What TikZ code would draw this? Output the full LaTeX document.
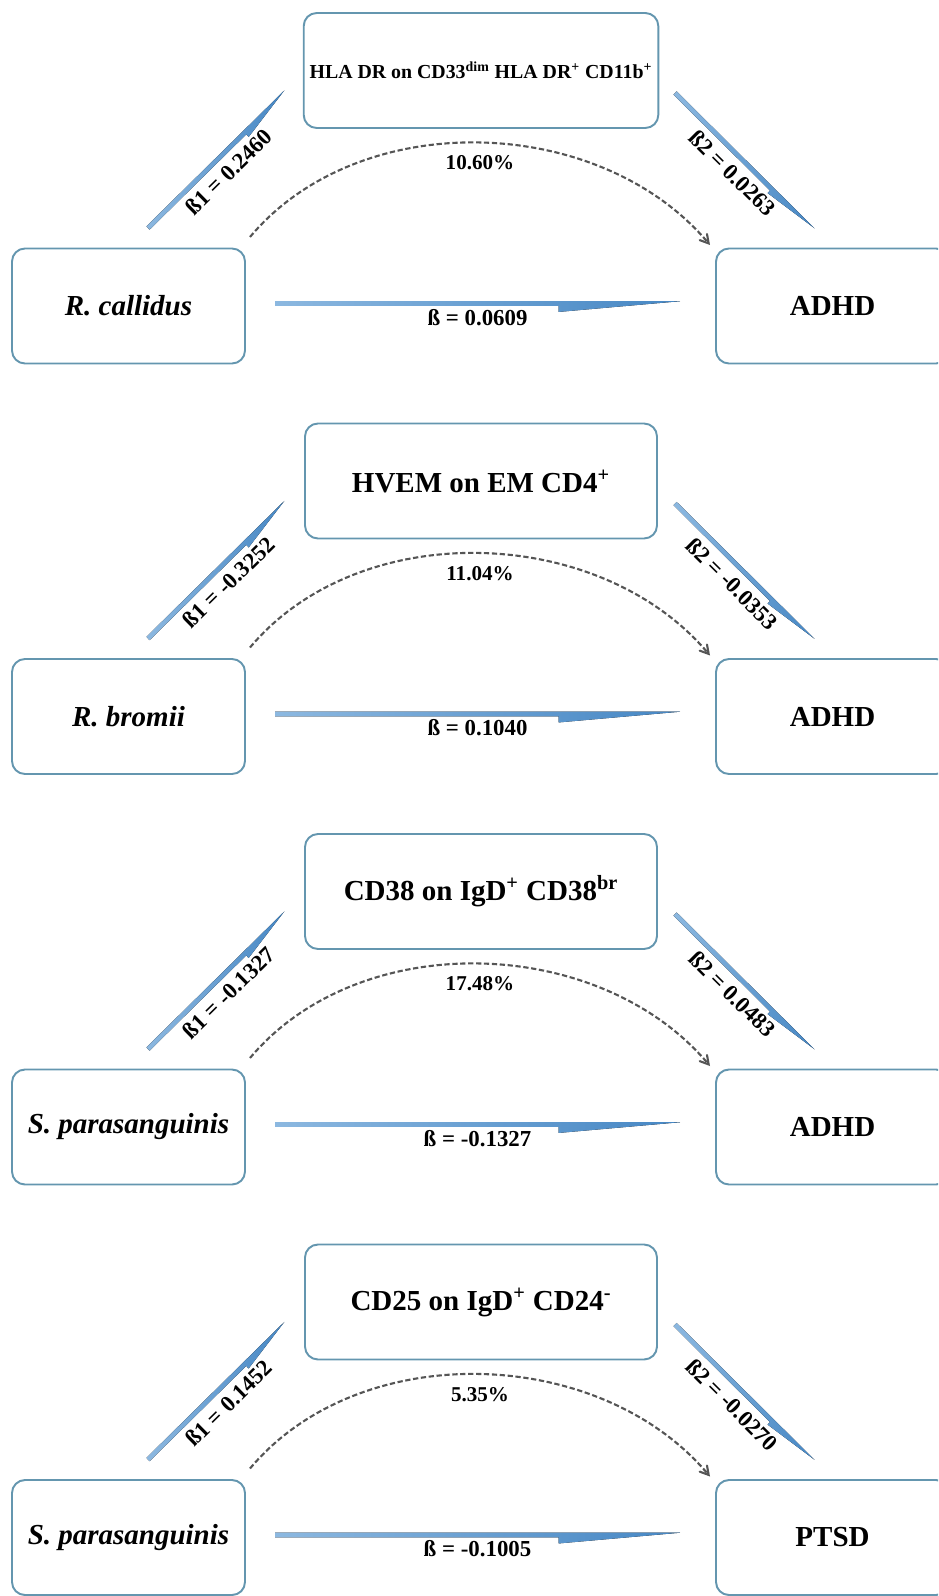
\documentclass[tikz,border=0pt]{standalone}
\usepackage{fontspec}
\setmainfont{Liberation Serif}
\usetikzlibrary{arrows,calc,positioning}

\definecolor{boxline}{RGB}{100,150,175}
\definecolor{flowlight}{RGB}{140,184,224}
\definecolor{flowdark}{RGB}{70,135,196}
\definecolor{dashgray}{RGB}{85,85,85}

% shaded one-sided arrow between two named points
\newcommand{\flowarrow}[3][4.8pt]{%
  \coordinate (fm) at ($(#2)!0.7!(#3)$);
  \fill[flow] ($(#2)!1.3pt!90:(#3)$) -- ($(#3)!1.3pt!-90:(#2)$)
    -- ($(fm)!#1!-90:(#3)$) -- ($(fm)!1.3pt!-90:(#3)$)
    -- ($(#2)!1.3pt!-90:(#3)$) -- cycle;}

\begin{document}
\begin{tikzpicture}[x=0.2mm,y=0.2mm,>=angle 60]
  \tikzstyle{box}=[rectangle,draw=boxline,line width=1.1pt,rounded corners=2.6mm,
                   font=\fontsize{16.5}{20}\selectfont\bfseries]
  \tikzstyle{mid box}=[box,minimum width=70.4mm,minimum height=23mm]
  \tikzstyle{end box}=[box,on grid,minimum width=46.6mm,minimum height=23mm]
  \tikzstyle{coef}=[font=\fontsize{13}{15}\selectfont\bfseries,inner sep=1.5pt]
  \tikzstyle{share}=[font=\fontsize{12}{14}\selectfont\bfseries,inner sep=1.5pt]
  \tikzstyle{flow}=[left color=flowlight,right color=flowdark]
  \tikzstyle{mediated}=[draw=dashgray,line width=1.2pt,dash pattern=on 3pt off 1.5pt,->]

  \clip (0,0) rectangle (938,-1596);

  \begin{scope}
    \node [mid box] (med) at (481,-70.5) {\fontsize{11.3}{13}\selectfont HLA DR on CD33\textsuperscript{dim} HLA DR\textsuperscript{+} CD11b\textsuperscript{+}};
    \node [end box] (src) [below left=47.1mm and 70.5mm of med] {\textit{R. callidus}};
    \node [end box] (dst) [below right=47.1mm and 70.3mm of med] {ADHD};
    \coordinate (a1) at (148,-228);   \coordinate (a2) at (286,-92);
    \coordinate (b1) at (675,-93);    \coordinate (b2) at (813,-230);
    \coordinate (c1) at (275,-303.5); \coordinate (c2) at (680,-303.5);
    \coordinate (d1) at (250,-237);   \coordinate (d2) at (710,-245);
    \flowarrow[3.3pt]{a1}{a2} \flowarrow[3.3pt]{b1}{b2} \flowarrow{c1}{c2}
    \path (a1) -- node[coef,sloped,below=3pt] {ß1 = 0.2460} (a2);
    \path (b1) -- node[coef,sloped,below=3pt] {ß2 = 0.0263} (b2);
    \path (c1) -- node[coef,below=1.5pt] {ß = 0.0609} (c2);
    \draw [mediated] (d1) to[out=50,in=130,looseness=0.95] node[share,below=5.2pt] {10.60\%} (d2);
  \end{scope}

  \begin{scope}[shift={(0,-410.5)}]
    \node [mid box] (med) at (481,-70.5) {HVEM on EM CD4\textsuperscript{+}};
    \node [end box] (src) [below left=47.1mm and 70.5mm of med] {\textit{R. bromii}};
    \node [end box] (dst) [below right=47.1mm and 70.3mm of med] {ADHD};
    \coordinate (a1) at (148,-228);   \coordinate (a2) at (286,-92);
    \coordinate (b1) at (675,-93);    \coordinate (b2) at (813,-230);
    \coordinate (c1) at (275,-303.5); \coordinate (c2) at (680,-303.5);
    \coordinate (d1) at (250,-237);   \coordinate (d2) at (710,-245);
    \flowarrow[3.3pt]{a1}{a2} \flowarrow[3.3pt]{b1}{b2} \flowarrow{c1}{c2}
    \path (a1) -- node[coef,sloped,below=3pt] {ß1 = -0.3252} (a2);
    \path (b1) -- node[coef,sloped,below=3pt] {ß2 = -0.0353} (b2);
    \path (c1) -- node[coef,below=1.5pt] {ß = 0.1040} (c2);
    \draw [mediated] (d1) to[out=50,in=130,looseness=0.95] node[share,below=5.2pt] {11.04\%} (d2);
  \end{scope}

  \begin{scope}[shift={(0,-821)}]
    \node [mid box] (med) at (481,-70.5) {CD38 on IgD\textsuperscript{+} CD38\textsuperscript{br}};
    \node [end box] (src) [below left=47.1mm and 70.5mm of med] {\textit{S. parasanguinis}};
    \node [end box] (dst) [below right=47.1mm and 70.3mm of med] {ADHD};
    \coordinate (a1) at (148,-228);   \coordinate (a2) at (286,-92);
    \coordinate (b1) at (675,-93);    \coordinate (b2) at (813,-230);
    \coordinate (c1) at (275,-303.5); \coordinate (c2) at (680,-303.5);
    \coordinate (d1) at (250,-237);   \coordinate (d2) at (710,-245);
    \flowarrow[3.3pt]{a1}{a2} \flowarrow[3.3pt]{b1}{b2} \flowarrow{c1}{c2}
    \path (a1) -- node[coef,sloped,below=3pt] {ß1 = -0.1327} (a2);
    \path (b1) -- node[coef,sloped,below=3pt] {ß2 = 0.0483} (b2);
    \path (c1) -- node[coef,below=1.5pt] {ß = -0.1327} (c2);
    \draw [mediated] (d1) to[out=50,in=130,looseness=0.95] node[share,below=5.2pt] {17.48\%} (d2);
  \end{scope}

  \begin{scope}[shift={(0,-1231.5)}]
    \node [mid box] (med) at (481,-70.5) {CD25 on IgD\textsuperscript{+} CD24\textsuperscript{-}};
    \node [end box] (src) [below left=47.1mm and 70.5mm of med] {\textit{S. parasanguinis}};
    \node [end box] (dst) [below right=47.1mm and 70.3mm of med] {PTSD};
    \coordinate (a1) at (148,-228);   \coordinate (a2) at (286,-92);
    \coordinate (b1) at (675,-93);    \coordinate (b2) at (813,-230);
    \coordinate (c1) at (275,-303.5); \coordinate (c2) at (680,-303.5);
    \coordinate (d1) at (250,-237);   \coordinate (d2) at (710,-245);
    \flowarrow[3.3pt]{a1}{a2} \flowarrow[3.3pt]{b1}{b2} \flowarrow{c1}{c2}
    \path (a1) -- node[coef,sloped,below=3pt] {ß1 = 0.1452} (a2);
    \path (b1) -- node[coef,sloped,below=3pt] {ß2 = -0.0270} (b2);
    \path (c1) -- node[coef,below=1.5pt] {ß = -0.1005} (c2);
    \draw [mediated] (d1) to[out=50,in=130,looseness=0.95] node[share,below=5.2pt] {5.35\%} (d2);
  \end{scope}
\end{tikzpicture}
\end{document}
